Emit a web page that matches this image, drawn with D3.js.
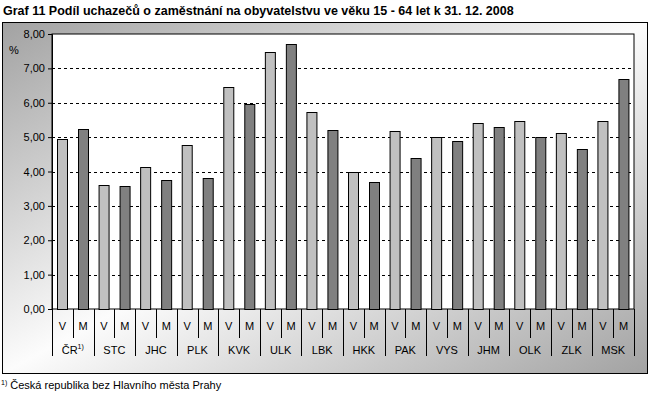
<!DOCTYPE html>
<html>
<head>
<meta charset="utf-8">
<script src="https://cdn.jsdelivr.net/npm/d3@7"></script>
<style>
  body { margin: 0; background: #fff; }
  text { font-family: "Liberation Sans", Arial, sans-serif; }
</style>
</head>
<body>
<svg id="chart" width="650" height="393"></svg>
<script>
// data
var regions = ["ČR", "STC", "JHC", "PLK", "KVK", "ULK", "LBK", "HKK", "PAK", "VYS", "JHM", "OLK", "ZLK", "MSK"];
var seriesKeys = ["V", "M"];
var valuesV = [4.94, 3.60, 4.12, 4.76, 6.46, 7.47, 5.72, 3.99, 5.17, 4.99, 5.40, 5.46, 5.11, 5.46];
var valuesM = [5.23, 3.57, 3.74, 3.80, 5.95, 7.71, 5.20, 3.69, 4.38, 4.88, 5.29, 4.99, 4.65, 6.69];
var yTicks = [0, 1, 2, 3, 4, 5, 6, 7, 8];

var svg = d3.select("#chart");

var margin = { top: 34, right: 16, bottom: 84, left: 52 },
  width = 634 - margin.left,
  height = 309 - margin.top;

// gradient background of the chart frame
var defs = svg.append("defs");
var grad = defs.append("linearGradient")
  .attr("id", "bg")
  .attr("x1", "0").attr("y1", "0")
  .attr("x2", "1").attr("y2", "1");
grad.append("stop").attr("offset", "0").attr("stop-color", "#a2a2a2");
grad.append("stop").attr("offset", "0.5").attr("stop-color", "#fcfcfc");
grad.append("stop").attr("offset", "1").attr("stop-color", "#a2a2a2");

svg.append("rect")
  .attr("x", 2.5).attr("y", 22.5)
  .attr("width", 645).attr("height", 351)
  .attr("fill", "url(#bg)")
  .attr("stroke", "#000");

// title
svg.append("text")
  .attr("x", 3).attr("y", 15)
  .attr("font-size", 12.5)
  .attr("font-weight", "bold")
  .style("font-family", "'Liberation Sans Narrow', 'Arial Narrow', sans-serif")
  .text("Graf 11 Podíl uchazečů o zaměstnání na obyvatelstvu ve věku 15 - 64 let k 31. 12. 2008");

var g = svg.append("g")
  .attr("transform", "translate(" + margin.left + "," + margin.top + ")");

// scales
var x0 = d3.scaleBand().domain(regions).range([0, width]).padding(0);
var x1 = d3.scaleBand().domain(seriesKeys).range([0, x0.bandwidth()]).padding(0);
var y = d3.scaleLinear().domain([0, 8]).range([height, 0]);

// plot area
g.append("rect")
  .attr("x", 0).attr("y", 0)
  .attr("width", width).attr("height", height)
  .attr("fill", "#fff")
  .attr("stroke", "#000");

// dashed grid
g.selectAll(".grid")
  .data(yTicks.filter(function (d) { return d > 0 && d < 8; }))
  .enter().append("line")
  .attr("x1", 0).attr("x2", width)
  .attr("y1", function (d) { return Math.round(y(d)) + 0.5; })
  .attr("y2", function (d) { return Math.round(y(d)) + 0.5; })
  .attr("stroke", "#000")
  .attr("stroke-dasharray", "3,3");

// y axis
var fmt = d3.format(".2f");
var yAxis = d3.axisLeft(y)
  .tickValues(yTicks)
  .tickSize(4)
  .tickFormat(function (d) { return fmt(d).replace(".", ","); });
var ya = g.append("g").call(yAxis);
ya.select(".domain").attr("stroke", "#000");
ya.selectAll("text").attr("font-size", 11).attr("fill", "#000")
  .style("font-family", "'Liberation Sans', Arial, sans-serif");

svg.append("text")
  .attr("x", 9).attr("y", 54)
  .attr("font-size", 11)
  .text("%");

// bars
var rows = regions.map(function (r, i) {
  return { region: r, V: valuesV[i], M: valuesM[i] };
});
var barW = 10;
var grp = g.selectAll(".grp")
  .data(rows)
  .enter().append("g")
  .attr("transform", function (d) { return "translate(" + x0(d.region) + ",0)"; });

grp.selectAll("rect")
  .data(function (d) { return seriesKeys.map(function (k) { return { key: k, value: d[k] }; }); })
  .enter().append("rect")
  .attr("x", function (d) { return Math.round(x1(d.key) + x1.bandwidth() / 2 - barW / 2) + 0.5; })
  .attr("y", function (d) { return Math.round(y(d.value)) + 0.5; })
  .attr("width", barW)
  .attr("height", function (d) { return height - Math.round(y(d.value)); })
  .attr("fill", function (d) { return d.key === "V" ? "#c0c0c0" : "#808080"; })
  .attr("stroke", "#000")
  .attr("stroke-width", 1);

// category axis: V/M row and region row
var xa = g.append("g").attr("transform", "translate(0," + height + ")");
var slots = [];
regions.forEach(function (r) {
  seriesKeys.forEach(function (k) { slots.push({ region: r, key: k }); });
});

xa.selectAll(".sep")
  .data(slots.concat([{ end: true }]))
  .enter().append("line")
  .attr("x1", function (d, i) { return Math.round(i * x1.bandwidth()) + 0.5; })
  .attr("x2", function (d, i) { return Math.round(i * x1.bandwidth()) + 0.5; })
  .attr("y1", 0)
  .attr("y2", function (d, i) { return i % 2 === 0 ? 47 : 29; })
  .attr("stroke", "#000");

xa.selectAll(".vm")
  .data(slots)
  .enter().append("text")
  .attr("x", function (d) { return x0(d.region) + x1(d.key) + x1.bandwidth() / 2; })
  .attr("y", 21)
  .attr("text-anchor", "middle")
  .attr("font-size", 11)
  .text(function (d) { return d.key; });

var lab = xa.selectAll(".reg")
  .data(regions)
  .enter().append("text")
  .attr("x", function (d) { return x0(d) + x0.bandwidth() / 2; })
  .attr("y", 45)
  .attr("text-anchor", "middle")
  .attr("font-size", 11)
  .text(function (d) { return d; });
lab.filter(function (d) { return d === "ČR"; })
  .append("tspan")
  .attr("font-size", 7)
  .attr("dy", -5)
  .text("1)");

// footnote
var fn = svg.append("text")
  .attr("x", 1).attr("y", 389)
  .attr("font-size", 11);
fn.append("tspan").attr("font-size", 7).attr("dy", -4).text("1)");
fn.append("tspan").attr("dy", 4).text(" Česká republika bez Hlavního města Prahy");
</script>
</body>
</html>
